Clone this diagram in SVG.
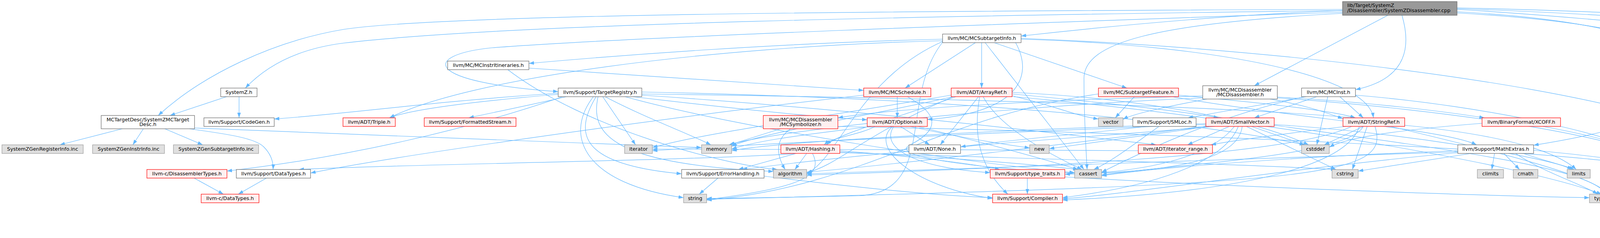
<svg xmlns="http://www.w3.org/2000/svg" width="5179" height="608" viewBox="0 0 5179 608">
<defs>
<marker id="a" markerUnits="userSpaceOnUse" markerWidth="14" markerHeight="10" refX="13" refY="4.5" orient="auto"><path d="M0,0L13,4.5L0,9z" fill="#63b8ff" stroke="none"/></marker>
<style>
.e path{fill:none;stroke:#63b8ff;stroke-width:1.2;marker-end:url(#a)}
rect{stroke-width:1.2}
.w rect{fill:#ffffff;stroke:#666666}
.g rect{fill:#e0e0e0;stroke:#999999}
.r rect{fill:#fff0f0;stroke:#ff0000}
.k rect{fill:#999999;stroke:#666666}
text{font-family:"DejaVu Sans","Liberation Sans",sans-serif;font-size:12.8px;fill:#000000;text-anchor:middle}
.k text{text-anchor:start}
</style>
</defs>
<rect width="5179" height="608" fill="#ffffff" stroke="none"/>
<g class="e" id="edges">
<path d="M3437,24 C2300,28 1150,35 880,75 C700,105 520,190 405,295"/>
<path d="M3437,27 C2400,40 1300,60 880,110 C760,125 680,170 628,225"/>
<path d="M3437,31 C2600,60 1600,95 1260,122 C1080,140 1080,210 1429,234"/>
<path d="M3437,27 C3200,35 2900,60 2614,92"/>
<path d="M3553,39 L3211,219"/>
<path d="M3589,39 C3610,110 3610,200 3470,229"/>
<path d="M3437,34 C2950,60 2775,110 2775,200 C2775,300 2780,380 2783,433"/>
<path d="M3730,30 C4100,50 4318,110 4318,200 C4318,290 4150,335 3926,371"/>
<path d="M3730,33 C4200,60 4345,120 4345,220 C4345,320 4340,400 4322,433"/>
<path d="M3730,24 C4000,40 4250,65 4419,83"/>
<path d="M3730,22 C4100,35 4450,60 4685,87"/>
<path d="M3730,20 C4200,30 4700,60 4966,87"/>
<path d="M313,329 L153,370"/>
<path d="M367,329 L340,370"/>
<path d="M422,329 L519,370"/>
<path d="M485,329 C560,340 650,350 675,375 C695,395 700,415 699,433"/>
<path d="M498,327 C900,345 1400,360 1796,377"/>
<path d="M580,247 L435,295"/>
<path d="M612,247 L612,301"/>
<path d="M2497,109 L2317,225"/>
<path d="M2513,109 L2513,225"/>
<path d="M2545,109 L2885,225"/>
<path d="M2522,109 L2775,433"/>
<path d="M2600,109 C2650,200 2600,290 2374,305"/>
<path d="M2614,100 C3100,115 3500,190 3516,301"/>
<path d="M2614,98 C3200,120 3900,200 4240,300 C4290,330 4300,380 4303,433"/>
<path d="M2413,104 C1800,120 1200,200 997,301"/>
<path d="M2413,100 C2000,110 1600,140 1354,162"/>
<path d="M2413,106 C2200,200 2150,400 2065,444"/>
<path d="M2413,108 C2300,250 2400,490 2200,500 C2000,505 1900,506 1809,507"/>
<path d="M1354,174 C1700,195 2000,215 2211,231"/>
<path d="M1300,178 C1500,330 1850,420 1990,433"/>
<path d="M1440,247 C1200,330 900,400 581,437"/>
<path d="M1620,247 C1900,280 2100,300 2220,306"/>
<path d="M1643,240 C2400,250 3100,270 3470,301"/>
<path d="M1440,240 C1200,260 1050,280 997,301"/>
<path d="M1643,243 C2200,280 2700,340 2960,370"/>
<path d="M1429,238 C1100,260 900,290 702,304"/>
<path d="M1526,247 C1470,340 1480,420 1745,444"/>
<path d="M1450,247 C1350,270 1250,290 1200,301"/>
<path d="M1531,247 C1510,340 1560,420 1980,438"/>
<path d="M1600,247 C1900,330 2500,420 2751,441"/>
<path d="M1643,235 C2400,250 3000,300 3340,370"/>
<path d="M1543,247 L1627,370"/>
<path d="M1549,247 C1650,300 1760,340 1820,370"/>
<path d="M1519,247 C1440,350 1500,470 1750,505"/>
<path d="M2297,247 L2297,301"/>
<path d="M2211,243 C1700,300 1000,400 795,442"/>
<path d="M2323,247 C2400,290 2410,330 2330,370 C2270,400 2500,430 2751,442"/>
<path d="M2447,247 C2300,300 2150,340 2115,370"/>
<path d="M2505,247 L2407,370"/>
<path d="M2591,240 C2800,260 3000,280 3120,301"/>
<path d="M2508,247 C2490,350 2510,430 2580,496"/>
<path d="M2440,247 C2200,350 2150,420 2065,441"/>
<path d="M2517,247 C2560,330 2700,400 2770,433"/>
<path d="M2591,236 C2900,250 3200,300 3350,370"/>
<path d="M2435,243 C2100,300 1800,340 1670,377"/>
<path d="M2440,247 C2200,300 1950,340 1873,373"/>
<path d="M2595,247 C3200,300 3900,420 4100,496"/>
<path d="M2591,245 C2700,270 2750,295 2812,304"/>
<path d="M2904,247 L2855,301"/>
<path d="M3017,243 C3200,260 3400,280 3470,301"/>
<path d="M3000,247 C3300,300 3700,330 3780,370"/>
<path d="M2812,240 C2400,300 2200,480 1809,511"/>
<path d="M2240,323 C2200,345 2130,350 2110,370"/>
<path d="M2305,323 L2380,370"/>
<path d="M2285,323 C2220,380 2350,480 2541,507"/>
<path d="M2288,323 C2250,380 2350,430 2535,441"/>
<path d="M2350,323 C2500,360 2650,400 2760,433"/>
<path d="M2230,323 C2100,340 1950,355 1873,381"/>
<path d="M2330,323 C2450,350 2580,370 2636,378"/>
<path d="M2038,392 C1800,410 1000,420 765,433"/>
<path d="M2038,392 L1890,433"/>
<path d="M2065,392 L2035,433"/>
<path d="M2150,385 C2350,400 2500,420 2560,433"/>
<path d="M2150,388 C2400,400 2650,420 2760,433"/>
<path d="M2150,390 C2800,410 3200,420 3420,433"/>
<path d="M2080,392 C2110,450 2050,480 1809,510"/>
<path d="M1956,450 C2200,480 2400,500 2541,505"/>
<path d="M1838,455 L1790,496"/>
<path d="M2630,455 L2630,496"/>
<path d="M2726,452 C3200,480 3800,500 4069,505"/>
<path d="M682,455 L610,496"/>
<path d="M497,455 L572,496"/>
<path d="M2935,323 C2800,340 2600,355 2459,375"/>
<path d="M2967,323 C2900,370 2850,410 2800,433"/>
<path d="M2914,385 C2500,380 1900,385 1670,381"/>
<path d="M3251,253 C3350,270 3400,290 3438,303"/>
<path d="M3270,248 C3500,260 3700,285 3800,301"/>
<path d="M3079,245 C2700,255 2300,275 2145,301"/>
<path d="M3270,250 C3700,280 4200,350 4290,433"/>
<path d="M3079,250 C2600,270 2000,330 1866,370"/>
<path d="M3090,253 C3000,270 2900,290 2875,305"/>
<path d="M3344,247 L3041,301"/>
<path d="M3371,247 L3211,301"/>
<path d="M3399,247 L3371,370"/>
<path d="M3430,247 L3490,301"/>
<path d="M3340,247 C3100,300 2900,400 2820,440"/>
<path d="M3470,243 C3800,270 4200,350 4285,433"/>
<path d="M1998,329 L1868,370"/>
<path d="M2024,329 C1980,360 1990,400 2010,433"/>
<path d="M2145,323 C3000,340 4000,380 4275,433"/>
<path d="M3147,323 L3040,370"/>
<path d="M3170,323 C3140,400 3000,470 2720,505"/>
<path d="M3110,323 C2800,350 2300,380 1900,433"/>
<path d="M3180,323 C3170,410 3000,440 2726,445"/>
<path d="M3100,320 C2800,360 2300,420 2065,440"/>
<path d="M3160,323 C3100,400 2950,430 2820,441"/>
<path d="M3204,323 L3340,370"/>
<path d="M3191,323 L3420,433"/>
<path d="M3087,318 C2500,340 1900,370 1670,385"/>
<path d="M3262,318 C3600,340 3950,400 4030,433"/>
<path d="M3087,316 C2600,330 2000,360 1873,385"/>
<path d="M3095,323 C2900,350 2750,370 2686,380"/>
<path d="M3262,320 C3700,380 4080,430 4110,496"/>
<path d="M3445,323 C3300,340 3150,360 3100,370"/>
<path d="M3480,323 C3450,420 3200,490 2720,511"/>
<path d="M3460,323 C3300,400 2600,430 2065,447"/>
<path d="M3490,323 C3450,400 3000,420 2820,447"/>
<path d="M3490,323 L3390,370"/>
<path d="M3500,323 L3462,433"/>
<path d="M3596,320 C3900,350 4000,400 4035,433"/>
<path d="M3520,323 C3560,450 3400,470 1809,509"/>
<path d="M3560,323 C3800,380 4090,450 4115,496"/>
<path d="M3794,315 C3600,330 3450,350 3403,376"/>
<path d="M3950,323 C4100,350 4280,400 4300,433"/>
<path d="M3732,390 C3300,430 2900,495 2720,508"/>
<path d="M3732,385 C3300,400 2950,430 2820,449"/>
<path d="M3826,392 L3819,433"/>
<path d="M3850,392 L3890,433"/>
<path d="M3926,384 C4100,400 4250,420 4269,440"/>
<path d="M3766,392 L3477,437"/>
<path d="M3900,392 C3950,410 4000,420 4025,433"/>
<path d="M3880,392 C3950,440 4050,470 4090,496"/>
<path d="M3732,388 C3000,410 2400,430 2065,444"/>
</g>
<g id="root" class="k"><rect x="3437" y="4" width="293" height="35"/><text x="3449" y="18">lib/Target/SystemZ</text><text x="3449" y="31">/Disassembler/SystemZDisassembler.cpp</text></g>
<g id="tgtdesc" class="w"><rect x="259" y="295" width="239" height="34"/><text x="378.5" y="309.5">MCTargetDesc/SystemZMCTarget</text><text x="378.5" y="322">Desc.h</text></g>
<g id="genreg" class="g"><rect x="5" y="370" width="208" height="22"/><text x="109" y="385">SystemZGenRegisterInfo.inc</text></g>
<g id="geninstr" class="g"><rect x="237" y="370" width="184" height="22"/><text x="329" y="385">SystemZGenInstrInfo.inc</text></g>
<g id="gensub" class="g"><rect x="444" y="370" width="218" height="22"/><text x="553" y="385">SystemZGenSubtargetInfo.inc</text></g>
<g id="distypes" class="r"><rect x="376" y="433" width="205" height="22"/><text x="478.5" y="448">llvm-c/DisassemblerTypes.h</text></g>
<g id="szh" class="w"><rect x="565" y="225" width="93" height="22"/><text x="611.5" y="240">SystemZ.h</text></g>
<g id="codegen" class="w"><rect x="522" y="301" width="180" height="22"/><text x="612" y="316">llvm/Support/CodeGen.h</text></g>
<g id="datatypes" class="w"><rect x="605" y="433" width="190" height="22"/><text x="700" y="448">llvm/Support/DataTypes.h</text></g>
<g id="cdatatypes" class="r"><rect x="515" y="496" width="148" height="22"/><text x="589" y="511">llvm-c/DataTypes.h</text></g>
<g id="itin" class="w"><rect x="1146" y="156" width="208" height="22"/><text x="1250" y="171">llvm/MC/MCInstrItineraries.h</text></g>
<g id="triple" class="r"><rect x="878" y="301" width="134" height="22"/><text x="945" y="316">llvm/ADT/Triple.h</text></g>
<g id="fstream" class="r"><rect x="1086" y="301" width="235" height="22"/><text x="1203.5" y="316">llvm/Support/FormattedStream.h</text></g>
<g id="treg" class="w"><rect x="1429" y="225" width="214" height="22"/><text x="1536" y="240">llvm/Support/TargetRegistry.h</text></g>
<g id="iterator" class="g"><rect x="1599" y="370" width="71" height="22"/><text x="1634.5" y="385">iterator</text></g>
<g id="symb" class="r"><rect x="1954" y="295" width="191" height="34"/><text x="2049.5" y="309.5">llvm/MC/MCDisassembler</text><text x="2049.5" y="322">/MCSymbolizer.h</text></g>
<g id="memory" class="g"><rect x="1796" y="370" width="77" height="22"/><text x="1834.5" y="385">memory</text></g>
<g id="hashing" class="r"><rect x="1999" y="370" width="151" height="22"/><text x="2074.5" y="385">llvm/ADT/Hashing.h</text></g>
<g id="errh" class="w"><rect x="1745" y="433" width="211" height="22"/><text x="1850.5" y="448">llvm/Support/ErrorHandling.h</text></g>
<g id="algorithm" class="g"><rect x="1980" y="433" width="85" height="22"/><text x="2022.5" y="448">algorithm</text></g>
<g id="string" class="g"><rect x="1750" y="496" width="59" height="22"/><text x="1779.5" y="511">string</text></g>
<g id="sti" class="w"><rect x="2413" y="87" width="201" height="22"/><text x="2513.5" y="102">llvm/MC/MCSubtargetInfo.h</text></g>
<g id="sched" class="r"><rect x="2211" y="225" width="172" height="22"/><text x="2297" y="240">llvm/MC/MCSchedule.h</text></g>
<g id="arrayref" class="r"><rect x="2435" y="225" width="156" height="22"/><text x="2513" y="240">llvm/ADT/ArrayRef.h</text></g>
<g id="optional" class="r"><rect x="2220" y="301" width="154" height="22"/><text x="2297" y="316">llvm/ADT/Optional.h</text></g>
<g id="none" class="w"><rect x="2327" y="370" width="132" height="22"/><text x="2393" y="385">llvm/ADT/None.h</text></g>
<g id="ttraitsh" class="r"><rect x="2535" y="433" width="191" height="22"/><text x="2630.5" y="448">llvm/Support/type_traits.h</text></g>
<g id="compiler" class="r"><rect x="2541" y="496" width="179" height="22"/><text x="2630.5" y="511">llvm/Support/Compiler.h</text></g>
<g id="stfeat" class="r"><rect x="2812" y="225" width="205" height="22"/><text x="2914.5" y="240">llvm/MC/SubtargetFeature.h</text></g>
<g id="vector" class="g"><rect x="2812" y="301" width="63" height="22"/><text x="2843.5" y="316">vector</text></g>
<g id="smloc" class="w"><rect x="2900" y="301" width="162" height="22"/><text x="2981" y="316">llvm/Support/SMLoc.h</text></g>
<g id="new" class="g"><rect x="2636" y="370" width="50" height="22"/><text x="2661" y="385">new</text></g>
<g id="itrange" class="r"><rect x="2914" y="370" width="190" height="22"/><text x="3009" y="385">llvm/ADT/iterator_range.h</text></g>
<g id="cassert" class="g"><rect x="2751" y="433" width="69" height="22"/><text x="2785.5" y="448">cassert</text></g>
<g id="mcdis" class="w"><rect x="3079" y="219" width="191" height="34"/><text x="3174.5" y="233.5">llvm/MC/MCDisassembler</text><text x="3174.5" y="246">/MCDisassembler.h</text></g>
<g id="mcinst" class="w"><rect x="3332" y="225" width="138" height="22"/><text x="3401" y="240">llvm/MC/MCInst.h</text></g>
<g id="smallvec" class="r"><rect x="3087" y="301" width="175" height="22"/><text x="3174.5" y="316">llvm/ADT/SmallVector.h</text></g>
<g id="cstddef" class="g"><rect x="3332" y="370" width="71" height="22"/><text x="3367.5" y="385">cstddef</text></g>
<g id="cstring" class="g"><rect x="3410" y="433" width="67" height="22"/><text x="3443.5" y="448">cstring</text></g>
<g id="stringref" class="r"><rect x="3438" y="301" width="158" height="22"/><text x="3517" y="316">llvm/ADT/StringRef.h</text></g>
<g id="xcoff" class="r"><rect x="3794" y="301" width="201" height="22"/><text x="3894.5" y="316">llvm/BinaryFormat/XCOFF.h</text></g>
<g id="mathext" class="w"><rect x="3732" y="370" width="194" height="22"/><text x="3829" y="385">llvm/Support/MathExtras.h</text></g>
<g id="climits" class="g"><rect x="3782" y="433" width="67" height="22"/><text x="3815.5" y="448">climits</text></g>
<g id="cmath" class="g"><rect x="3874" y="433" width="63" height="22"/><text x="3905.5" y="448">cmath</text></g>
<g id="limits" class="g"><rect x="4012" y="433" width="59" height="22"/><text x="4041.5" y="448">limits</text></g>
<g id="cstdint" class="g"><rect x="4269" y="433" width="67" height="22"/><text x="4302.5" y="448">cstdint</text></g>
<g id="typetraits" class="g"><rect x="4069" y="496" width="93" height="22"/><text x="4115.5" y="511">type_traits</text></g>
<g id="tinfo" class="w"><rect x="4419" y="80" width="189" height="35"/><text x="4513.5" y="94.5">TargetInfo/SystemZTarget</text><text x="4513.5" y="107">Info.h</text></g>
<g id="fixedlen" class="w"><rect x="4632" y="87" width="259" height="22"/><text x="4761.5" y="102">llvm/MC/MCFixedLenDisassembler.h</text></g>
<g id="gendis" class="g"><rect x="4914" y="87" width="260" height="22"/><text x="5044" y="102">SystemZGenDisassemblerTables.inc</text></g>
</svg>
